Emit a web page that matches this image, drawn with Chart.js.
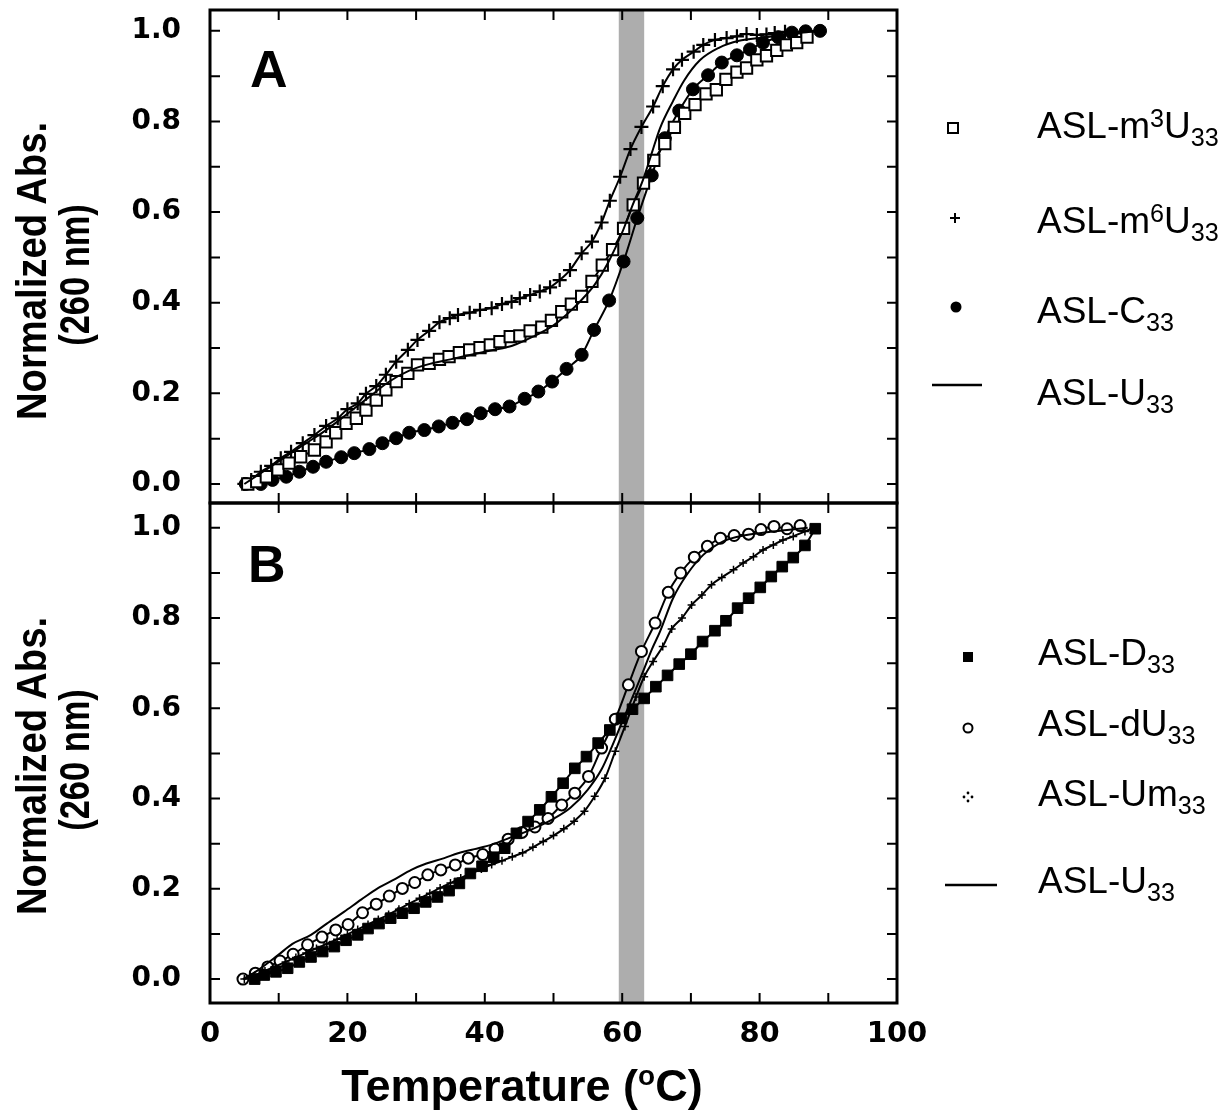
<!DOCTYPE html>
<html>
<head>
<meta charset="utf-8">
<script src="https://cdn.jsdelivr.net/npm/chart.js@4.4.1/dist/chart.umd.min.js"></script>
<style>
  body { margin: 0; background: #fff; width: 1227px; height: 1115px; position: relative; overflow: hidden;
         font-family: "Liberation Sans", Arial, sans-serif; }
  .box { position: absolute; left: 0; width: 1227px; }
  #boxA { top: 0; height: 515px; }
  #boxB { top: 495px; height: 620px; }
  .ytitle { position: absolute; white-space: nowrap; font: bold 42px "Liberation Sans", Arial, sans-serif; line-height: 1; }
  .xtitle { position: absolute; left: 522px; top: 1085px; transform: translate(-50%, -50%); white-space: nowrap;
            font: bold 45px "Liberation Sans", Arial, sans-serif; line-height: 1; }
  .xtitle sup { font-size: 0.62em; vertical-align: 0.55em; line-height: 0; }
  .panel { position: absolute; font: bold 52px "Liberation Sans", Arial, sans-serif; line-height: 1; }
  .leg { position: absolute; font: 37px "Liberation Sans", Arial, sans-serif; line-height: 1; white-space: nowrap; }
  .leg sup { font-size: 0.68em; vertical-align: 0.42em; line-height: 0; }
  .leg sub { font-size: 0.68em; vertical-align: -0.32em; line-height: 0; }
  .key { position: absolute; }
</style>
</head>
<body>
<div class="box" id="boxA"><canvas id="chartA"></canvas></div>
<div class="box" id="boxB"><canvas id="chartB"></canvas></div>

<div class="ytitle" style="left:32px; top:271px; transform: translate(-50%,-50%) rotate(-90deg) scaleX(0.91);">Normalized Abs.</div>
<div class="ytitle" style="left:75px; top:275px; transform: translate(-50%,-50%) rotate(-90deg) scaleX(0.82);">(260 nm)</div>
<div class="ytitle" style="left:32px; top:766px; transform: translate(-50%,-50%) rotate(-90deg) scaleX(0.91);">Normalized Abs.</div>
<div class="ytitle" style="left:75px; top:760px; transform: translate(-50%,-50%) rotate(-90deg) scaleX(0.82);">(260 nm)</div>
<div class="xtitle">Temperature (<sup>o</sup>C)</div>

<div class="panel" style="left:250px; top:43px;">A</div>
<div class="panel" style="left:248px; top:538px;">B</div>

<!-- legend panel A -->
<svg class="key" style="left:946px; top:121px;" width="14" height="14"><rect x="2" y="2" width="10" height="10" fill="#fff" stroke="#000" stroke-width="2"/></svg>
<svg class="key" style="left:948px; top:211px;" width="14" height="14"><path d="M7 2V12M2 7H12" stroke="#000" stroke-width="2"/></svg>
<svg class="key" style="left:949px; top:300px;" width="14" height="14"><circle cx="7" cy="7" r="5.5" fill="#000"/></svg>
<svg class="key" style="left:932px; top:383px;" width="50" height="4"><path d="M0 2H50" stroke="#000" stroke-width="2.5"/></svg>
<div class="leg" style="left:1037px; top:107px;">ASL-m<sup>3</sup>U<sub>33</sub></div>
<div class="leg" style="left:1037px; top:202px;">ASL-m<sup>6</sup>U<sub>33</sub></div>
<div class="leg" style="left:1037px; top:292px;">ASL-C<sub>33</sub></div>
<div class="leg" style="left:1037px; top:374px;">ASL-U<sub>33</sub></div>

<!-- legend panel B -->
<svg class="key" style="left:961px; top:650px;" width="14" height="14"><rect x="2" y="2" width="10" height="10" fill="#000"/></svg>
<svg class="key" style="left:961px; top:721px;" width="14" height="14"><circle cx="7" cy="7" r="4.5" fill="#fff" stroke="#000" stroke-width="2"/></svg>
<svg class="key" style="left:961px; top:790px;" width="14" height="14"><g fill="#000"><circle cx="7" cy="3" r="1.4"/><circle cx="7" cy="11" r="1.4"/><circle cx="3" cy="7" r="1.4"/><circle cx="11" cy="7" r="1.4"/></g></svg>
<svg class="key" style="left:945px; top:883px;" width="52" height="4"><path d="M0 2H52" stroke="#000" stroke-width="2.5"/></svg>
<div class="leg" style="left:1038px; top:634px;">ASL-D<sub>33</sub></div>
<div class="leg" style="left:1038px; top:705px;">ASL-dU<sub>33</sub></div>
<div class="leg" style="left:1038px; top:775px;">ASL-Um<sub>33</sub></div>
<div class="leg" style="left:1038px; top:862px;">ASL-U<sub>33</sub></div>

<script>
// axis ticks
const xTicks = [0, 10, 20, 30, 40, 50, 60, 70, 80, 90, 100];
const yTicks = [0, 0.1, 0.2, 0.3, 0.4, 0.5, 0.6, 0.7, 0.8, 0.9, 1.0];
const band = [59.5, 63.2]; // shaded Tm region, deg C

// panel A: [temperature, normalized absorbance]
const m3U = [[5.5,0.0],[6.8,0.005],[8.2,0.016],[9.9,0.031],[11.5,0.046],[13.2,0.060],[15.2,0.075],[16.9,0.093],[18.3,0.113],
  [19.8,0.134],[21.3,0.145],[22.7,0.163],[24.2,0.185],[25.6,0.208],[27.1,0.226],[28.8,0.244],[30.2,0.263],[31.9,0.266],
  [33.4,0.275],[34.8,0.281],[36.3,0.290],[37.8,0.296],[39.3,0.301],[40.8,0.307],[42.2,0.314],[43.7,0.325],[45.1,0.327],
  [46.6,0.338],[48.3,0.346],[49.7,0.361],[51.2,0.380],[52.6,0.397],[54.1,0.414],[55.6,0.447],[57.1,0.483],[58.6,0.517],
  [60.2,0.564],[61.6,0.616],[63.1,0.664],[64.6,0.714],[66.2,0.751],[67.6,0.787],[69.1,0.818],[70.6,0.837],[72.2,0.861],
  [73.7,0.870],[75.1,0.893],[76.7,0.909],[78.1,0.918],[79.6,0.936],[81.0,0.945],[82.5,0.957],[83.9,0.969],[85.4,0.974],[86.9,0.986]];
const m6U = [[5.0,0.0],[6.0,0.009],[7.4,0.027],[8.9,0.040],[10.3,0.057],[11.8,0.071],[13.5,0.090],[15.2,0.108],[16.9,0.128],
  [18.6,0.145],[20.0,0.165],[21.5,0.178],[22.7,0.199],[24.2,0.216],[25.6,0.241],[27.1,0.270],[28.8,0.296],[30.2,0.318],
  [31.9,0.338],[33.4,0.357],[34.9,0.366],[36.1,0.373],[37.8,0.378],[39.3,0.384],[41.0,0.388],[42.5,0.397],[43.9,0.402],
  [45.1,0.410],[46.6,0.417],[48.0,0.425],[49.5,0.434],[50.9,0.450],[52.4,0.472],[54.1,0.509],[55.6,0.535],[57.0,0.577],
  [58.2,0.625],[59.7,0.678],[61.2,0.739],[62.8,0.788],[64.5,0.833],[65.9,0.878],[67.4,0.915],[68.7,0.936],[70.4,0.954],
  [71.8,0.969],[73.5,0.980],[75.2,0.984],[76.7,0.988],[78.1,0.993],[79.6,0.991],[81.0,0.992],[82.2,0.995],[83.7,0.998]];
const c33 = [[5.2,0.0],[7.4,0.0],[9.1,0.009],[11.1,0.016],[13.0,0.027],[15.0,0.038],[16.9,0.049],[19.1,0.059],[21.0,0.068],
  [23.2,0.077],[25.1,0.090],[27.1,0.101],[29.0,0.113],[31.2,0.119],[33.3,0.127],[35.3,0.135],[37.4,0.143],[39.4,0.156],
  [41.5,0.165],[43.6,0.171],[45.8,0.188],[47.8,0.204],[49.8,0.226],[51.9,0.254],[54.1,0.285],[55.9,0.340],[58.1,0.405],
  [60.2,0.491],[62.2,0.587],[64.3,0.681],[66.2,0.763],[68.3,0.824],[70.3,0.871],[72.5,0.902],[74.5,0.930],[76.7,0.946],
  [78.6,0.959],[80.5,0.974],[82.7,0.986],[84.7,0.996],[86.7,0.999],[88.8,1.0]];
const u33A = [[5,0.0],[8,0.03],[11,0.06],[14,0.09],[17,0.12],[20,0.155],[23,0.19],[26,0.225],[29,0.25],[32,0.265],[35,0.275],
  [38,0.285],[41,0.295],[44,0.305],[47,0.325],[50,0.35],[52,0.375],[54,0.405],[56,0.44],[58,0.49],[60,0.555],[61.5,0.615],
  [63,0.67],[64.3,0.73],[65.5,0.785],[67.4,0.845],[69,0.89],[71.3,0.935],[74,0.962],[77,0.978],[80,0.984],[83,0.99],[86,0.996],[89,1.0]];

// panel B
const d33 = [[6.5,0.0],[7.9,0.009],[9.6,0.016],[11.3,0.024],[13.0,0.038],[14.7,0.049],[16.4,0.061],[18.1,0.072],[19.8,0.086],
  [21.5,0.098],[23.0,0.112],[24.6,0.123],[26.3,0.135],[28.0,0.146],[29.7,0.157],[31.4,0.171],[33.1,0.182],[34.8,0.196],
  [36.3,0.212],[37.9,0.234],[39.6,0.250],[41.3,0.270],[42.9,0.290],[44.6,0.323],[46.3,0.349],[48.0,0.375],[49.7,0.404],
  [51.4,0.434],[53.1,0.467],[54.8,0.493],[56.5,0.523],[58.2,0.552],[59.9,0.578],[61.5,0.598],[63.2,0.622],[64.9,0.648],
  [66.6,0.673],[68.3,0.698],[70.0,0.720],[71.7,0.748],[73.5,0.772],[75.1,0.794],[76.8,0.822],[78.4,0.844],[80.1,0.868],
  [81.7,0.892],[83.3,0.914],[84.9,0.934],[86.6,0.961],[88.1,0.998]];
const dU33 = [[4.8,0.0],[6.6,0.013],[8.4,0.027],[10.2,0.040],[12.1,0.055],[14.2,0.076],[16.3,0.093],[18.3,0.109],[20.1,0.121],
  [22.2,0.147],[24.2,0.166],[26.1,0.184],[28.0,0.201],[29.8,0.214],[31.7,0.231],[33.6,0.242],[35.7,0.253],[37.6,0.268],
  [39.7,0.276],[41.5,0.288],[43.4,0.310],[45.4,0.325],[47.3,0.337],[49.2,0.356],[51.2,0.386],[53.1,0.412],[55.1,0.449],
  [57.0,0.512],[59.0,0.576],[60.9,0.652],[62.8,0.726],[64.8,0.789],[66.7,0.857],[68.5,0.900],[70.5,0.935],[72.4,0.959],
  [74.3,0.977],[76.3,0.983],[78.4,0.986],[80.2,0.996],[82.1,1.003],[84.0,0.998],[85.9,1.005]];
const um33 = [[5,0.0],[6.5,0.008],[8,0.018],[9.5,0.028],[11,0.038],[12.5,0.048],[14,0.058],[15.5,0.068],[17,0.078],[18.5,0.088],
  [20,0.099],[21.5,0.110],[23,0.121],[24.5,0.132],[26,0.143],[27.5,0.155],[29,0.167],[30.5,0.179],[32,0.190],[33.5,0.202],
  [35,0.213],[36.5,0.224],[38,0.234],[39.5,0.244],[41,0.254],[42.5,0.262],[44,0.271],[45.5,0.280],[47,0.292],[48.5,0.305],
  [50,0.318],[51.5,0.333],[53,0.350],[54.5,0.372],[56,0.405],[57.5,0.445],[59,0.505],[60.4,0.560],[62,0.625],[63.2,0.670],
  [64.5,0.704],[65.9,0.737],[67.2,0.776],[68.7,0.800],[70.1,0.829],[71.6,0.851],[73,0.874],[74.5,0.890],[76.2,0.907],
  [77.6,0.922],[79.1,0.936],[80.5,0.951],[82,0.962],[83.4,0.973],[84.9,0.981],[86.6,0.992],[87.8,0.999]];
const u33B = [[4.8,0.0],[7,0.02],[9.9,0.053],[12,0.078],[14.7,0.098],[17,0.123],[19.5,0.149],[22,0.176],[24.4,0.201],[27,0.222],
  [29.3,0.242],[31.5,0.256],[34.1,0.268],[36.1,0.279],[38.5,0.288],[41,0.298],[44,0.315],[47,0.333],[50,0.355],[52.5,0.38],
  [55,0.42],[57,0.465],[58.5,0.515],[60,0.57],[61.5,0.625],[63,0.68],[64.3,0.73],[65.5,0.77],[67.4,0.844],[69.4,0.896],
  [71.8,0.94],[74.7,0.97],[78.1,0.984],[81,0.99],[84,0.995],[87,1.0]];

const pts = arr => arr.map(p => ({ x: p[0], y: p[1] }));

function series(data, style, radius, fill, bw) {
  return {
    data: pts(data), showLine: true, borderColor: '#000', borderWidth: 2,
    cubicInterpolationMode: 'monotone',
    pointStyle: style, pointRadius: radius, pointHoverRadius: radius,
    pointBackgroundColor: fill, pointBorderColor: '#000', pointBorderWidth: bw
  };
}
function plainLine(data) {
  return { data: pts(data), showLine: true, borderColor: '#000', borderWidth: 2,
           cubicInterpolationMode: 'monotone', pointRadius: 0 };
}

// shaded band, frame and inward ticks
const framePlugin = {
  id: 'frame',
  beforeDatasetsDraw(chart) {
    const { ctx, chartArea: a, scales: { x } } = chart;
    ctx.save();
    ctx.fillStyle = '#adadad';
    const x0 = x.getPixelForValue(band[0]), x1 = x.getPixelForValue(band[1]);
    ctx.fillRect(x0, a.top, x1 - x0, a.bottom - a.top);
    ctx.restore();
  },
  afterDatasetsDraw(chart) {
    const { ctx, chartArea: a, scales: { x, y } } = chart;
    const len = 10;
    ctx.save();
    ctx.strokeStyle = '#000';
    ctx.lineWidth = 2;
    ctx.beginPath();
    xTicks.forEach(v => {
      const px = x.getPixelForValue(v);
      if (px <= a.left + 1 || px >= a.right - 1) return;
      ctx.moveTo(px, a.top); ctx.lineTo(px, a.top + len);
      ctx.moveTo(px, a.bottom); ctx.lineTo(px, a.bottom - len);
    });
    yTicks.forEach(v => {
      const py = y.getPixelForValue(v);
      ctx.moveTo(a.left, py); ctx.lineTo(a.left + len, py);
      ctx.moveTo(a.right, py); ctx.lineTo(a.right - len, py);
    });
    ctx.stroke();
    ctx.lineWidth = 3;
    ctx.strokeRect(a.left, a.top, a.right - a.left, a.bottom - a.top);
    ctx.restore();
  }
};

function makeChart(id, datasets, yMin, yMax, padTop, showX) {
  return new Chart(document.getElementById(id), {
    type: 'scatter',
    data: { datasets: datasets },
    plugins: [framePlugin],
    options: {
      responsive: true, maintainAspectRatio: false, animation: false,
      events: [],
      layout: { autoPadding: false, padding: { top: padTop, right: 330, left: 0, bottom: 0 } },
      plugins: { legend: { display: false }, tooltip: { enabled: false } },
      scales: {
        x: {
          type: 'linear', min: 0, max: 100,
          afterBuildTicks: s => { s.ticks = xTicks.map(v => ({ value: v })); },
          afterFit: s => { s.height = showX ? 112 : 12; s.paddingLeft = 0; s.paddingRight = 0; },
          grid: { display: false, drawTicks: false },
          border: { display: false },
          ticks: {
            display: showX, autoSkip: false, maxRotation: 0, padding: 14, color: '#000',
            font: { family: 'DejaVu Sans', weight: 'bold', size: 29 },
            callback: v => (v % 20 === 0 ? String(v) : '')
          }
        },
        y: {
          type: 'linear', min: yMin, max: yMax,
          afterBuildTicks: s => { s.ticks = yTicks.map(v => ({ value: v })); },
          afterFit: s => { s.width = 210; s.paddingTop = 0; s.paddingBottom = 0; },
          grid: { display: false, drawTicks: false },
          border: { display: false },
          ticks: {
            autoSkip: false, padding: 29, color: '#000',
            font: { family: 'DejaVu Sans', weight: 'bold', size: 28 },
            callback: v => (Math.round(v * 10) % 2 === 0 ? v.toFixed(1) : '')
          }
        }
      }
    }
  });
}

makeChart('chartA', [
  plainLine(u33A),
  series(m3U, 'rect', 8, '#fff', 2),
  series(m6U, 'cross', 7, '#000', 2.2),
  series(c33, 'circle', 6.5, '#000', 1)
], -0.042, 1.046, 10, false);

makeChart('chartB', [
  plainLine(u33B),
  series(d33, 'rect', 7.5, '#000', 1),
  series(um33, 'cross', 4, '#000', 1.5),
  series(dU33, 'circle', 5.5, '#fff', 2)
], -0.053, 1.055, 8, true);
</script>
</body>
</html>
